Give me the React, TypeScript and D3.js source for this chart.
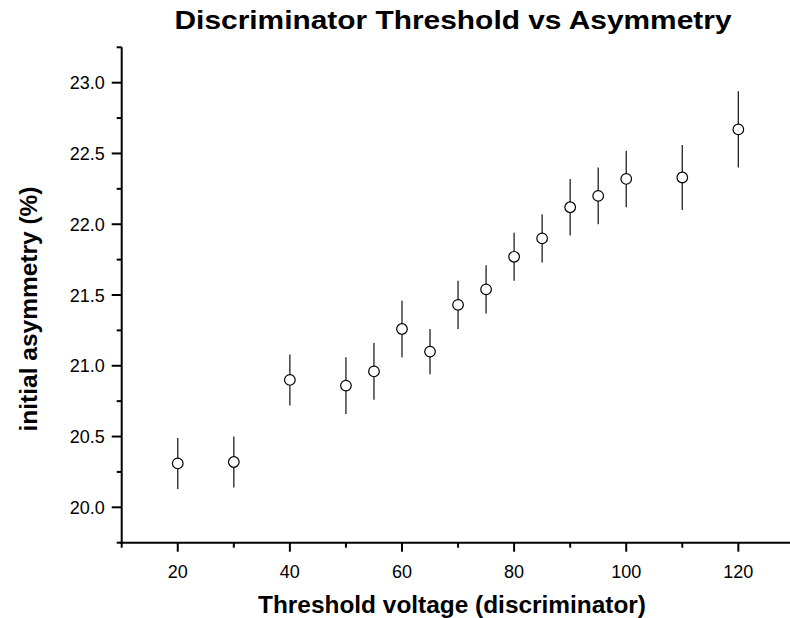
import React from "react";
import * as d3 from "d3";

const thresholds = [20, 30, 40, 50, 55, 60, 65, 70, 75, 80, 85, 90, 95, 100, 110, 120];
const asymmetry = [20.31, 20.32, 20.9, 20.86, 20.96, 21.26, 21.1, 21.43, 21.54, 21.77, 21.9, 22.12, 22.2, 22.32, 22.33, 22.67];
const errors = [0.18, 0.18, 0.18, 0.2, 0.2, 0.2, 0.16, 0.17, 0.17, 0.17, 0.17, 0.2, 0.2, 0.2, 0.23, 0.27];
const xMajorTicks = [20, 40, 60, 80, 100, 120];
const xMinorTicks = [10, 30, 50, 70, 90, 110, 130];
const yMajorTicks = [20.0, 20.5, 21.0, 21.5, 22.0, 22.5, 23.0];
const yMinorTicks = [19.75, 20.25, 20.75, 21.25, 21.75, 22.25, 22.75, 23.25];

const W = 790;
const H = 618;
const font = "'Liberation Sans', Arial, sans-serif";

export default function App() {
  const x = d3.scaleLinear().domain([10, 130]).range([121.7, 794.4]);
  const y = d3.scaleLinear().domain([19.75, 23.25]).range([542.7, 47.3]);
  const x0 = x(10);
  const y0 = y(19.75);
  return (
    <svg
      width={W}
      height={H}
      style={{ position: "fixed", left: 0, top: 0, background: "#fff" }}
      fontFamily={font}
    >
      <rect width={W} height={H} fill="#fff" />
      <text x={453} y={29.3} textAnchor="middle" fontSize={26} fontWeight="bold" textLength={557} lengthAdjust="spacingAndGlyphs">
        Discriminator Threshold vs Asymmetry
      </text>
      {/* axes lines */}
      <line x1={x0} x2={x0} y1={y(23.25)} y2={y0 + 1} stroke="#000" strokeWidth={2} />
      <line x1={x0 - 1} x2={W} y1={y0} y2={y0} stroke="#000" strokeWidth={2} />
      {/* y ticks */}
      {yMajorTicks.map((t) => (
        <g key={"ym" + t}>
          <line x1={x0 - 10} x2={x0} y1={y(t)} y2={y(t)} stroke="#000" strokeWidth={2} />
          <text x={x0 - 17} y={y(t) + 6.5} textAnchor="end" fontSize={18}>
            {d3.format(".1f")(t)}
          </text>
        </g>
      ))}
      {yMinorTicks.map((t) => (
        <line key={"yn" + t} x1={x0 - 5} x2={x0} y1={y(t)} y2={y(t)} stroke="#000" strokeWidth={2} />
      ))}
      {/* x ticks */}
      {xMajorTicks.map((t) => (
        <g key={"xm" + t}>
          <line x1={x(t)} x2={x(t)} y1={y0} y2={y0 + 9} stroke="#000" strokeWidth={2} />
          <text x={x(t)} y={578} textAnchor="middle" fontSize={18}>
            {t}
          </text>
        </g>
      ))}
      {xMinorTicks.map((t) => (
        <line key={"xn" + t} x1={x(t)} x2={x(t)} y1={y0} y2={y0 + 5} stroke="#000" strokeWidth={2} />
      ))}
      {/* axis labels */}
      <text x={452} y={612.5} textAnchor="middle" fontSize={23} fontWeight="bold" textLength={388} lengthAdjust="spacingAndGlyphs">
        Threshold voltage (discriminator)
      </text>
      <text
        transform={`translate(36.5,309) rotate(-90)`}
        textAnchor="middle"
        fontSize={23}
        fontWeight="bold"
        textLength={245}
        lengthAdjust="spacingAndGlyphs"
      >
        initial asymmetry (%)
      </text>
      {/* data */}
      {thresholds.map((t, i) => (
        <g key={"p" + t}>
          <line
            x1={x(t)}
            x2={x(t)}
            y1={y(asymmetry[i] + errors[i])}
            y2={y(asymmetry[i] - errors[i])}
            stroke="#222"
            strokeWidth={1.3}
          />
          <circle cx={x(t)} cy={y(asymmetry[i])} r={5.3} fill="#fff" stroke="#000" strokeWidth={1.2} />
        </g>
      ))}
    </svg>
  );
}
